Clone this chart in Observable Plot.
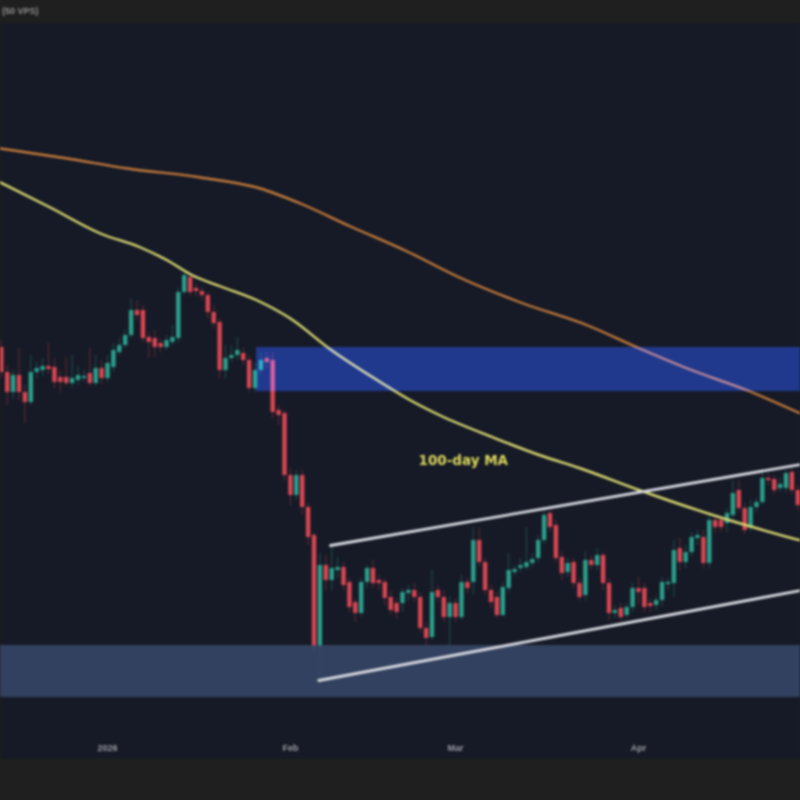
<!DOCTYPE html>
<html>
<head>
<meta charset="utf-8">
<script src="https://cdn.jsdelivr.net/npm/d3@7"></script>
<script src="https://cdn.jsdelivr.net/npm/@observablehq/plot@0.6"></script>
<style>
  html, body { margin: 0; padding: 0; background: #1f1f1f; }
  svg { display: block; }
</style>
</head>
<body>
<div id="chart"></div>
<script>
// Daily candles: day number counted from 1 Jan 2026, prices in thousand USD
const firstDay = -18;
const opens = [93.3,90.8,88.8,90.5,88.8,87.8,90.8,91.0,91.4,91.3,90.3,90.3,89.7,90.0,90.2,90.7,89.7,91.2,
90.2,91.3,92.8,93.5,94.5,97.0,97.0,94.3,94.2,93.7,93.3,93.8,94.2,98.8,100.3,99.2,98.9,98.5,96.8,95.8,91.0,92.2,92.5,92.7,92.0,89.2,91.0,92.2,92.0,87.0,86.7,80.5,78.5,80.5,77.3,74.5,63.3,71.5,70.0,71.0,71.3,69.8,67.8,66.7,69.8,71.2,70.0,69.8,68.3,67.7,67.7,68.7,69.0,68.3,65.2,64.3,69.0,68.3,66.3,67.7,66.3,69.8,69.8,74.0,71.8,69.0,68.3,66.5,69.2,70.8,71.2,71.3,71.7,72.2,74.0,76.7,75.5,72.3,70.8,71.8,69.7,68.5,72.0,71.5,72.5,69.7,66.7,67.2,66.5,67.3,69.2,69.2,67.7,67.5,68.0,69.6,69.7,73.2,71.8,72.8,74.2,74.3,71.7,76.0,76.0,75.7,76.5,79.0,77.2,75.2,77.3,77.8,80.2,80.1,79.2,79.2,80.8,79.0];
const closes = [90.8,88.8,90.5,88.8,87.8,90.8,91.2,91.4,91.1,89.8,89.8,89.7,90.2,90.5,90.4,89.7,91.2,90.2,
91.7,93.0,93.5,94.5,97.0,96.5,94.2,93.8,93.3,93.3,94.0,94.3,98.8,100.5,98.8,98.9,98.5,96.8,95.7,91.0,92.2,92.5,93.0,92.0,89.2,91.0,92.0,91.8,86.8,86.5,80.5,78.5,80.5,77.3,74.3,63.3,71.5,70.0,71.2,71.3,69.5,67.3,66.7,69.8,71.2,69.7,69.7,68.2,67.0,66.8,68.8,69.0,68.3,65.2,64.2,68.8,68.3,66.3,67.7,66.3,69.8,69.2,74.0,71.8,69.0,67.8,66.5,69.3,71.0,71.1,71.5,71.8,72.1,74.0,76.5,75.3,72.2,70.7,71.7,69.7,68.3,72.0,71.5,72.5,69.7,66.7,67.0,66.3,67.3,69.2,68.8,67.3,67.4,68.0,69.8,69.8,73.0,71.8,72.8,74.3,74.5,71.7,76.0,75.3,75.3,76.7,78.7,77.2,75.0,77.3,77.8,80.2,80.0,79.0,79.6,80.7,79.0,77.5];
const highs = [94.0,91.5,91.0,93.2,89.5,92.5,91.8,92.2,93.7,92.2,91.0,92.3,92.5,91.4,91.0,93.2,92.5,92.0,
92.5,93.7,94.2,95.0,98.2,98.0,97.5,94.8,95.0,94.2,94.5,95.5,99.2,101.0,100.8,99.6,99.3,98.8,97.5,96.2,93.5,93.5,94.3,93.2,92.5,91.8,92.8,92.8,92.8,87.5,87.0,81.2,81.0,81.0,77.7,74.8,72.7,72.5,73.3,72.3,71.8,70.2,68.2,70.2,71.5,72.0,70.5,70.2,69.0,68.2,69.2,69.5,69.7,68.8,65.8,71.0,69.5,69.0,68.4,68.2,70.5,70.2,75.3,75.2,72.2,69.5,68.8,69.8,72.7,71.5,72.2,75.3,72.7,74.5,77.0,77.0,76.0,72.8,72.2,72.2,70.2,72.8,72.5,73.2,72.8,70.2,67.5,67.7,67.7,69.7,70.3,69.7,68.2,68.4,70.3,70.2,74.0,74.2,73.5,74.8,75.0,75.0,76.5,76.5,76.4,77.2,80.0,80.0,77.7,78.0,78.2,80.7,80.6,80.5,80.2,81.0,81.2,79.5];
const lows = [90.2,87.5,88.2,88.0,85.7,87.5,90.2,90.4,90.6,89.2,88.8,89.4,89.3,89.5,89.8,89.4,89.4,89.6,
89.8,90.8,92.5,93.2,94.2,96.0,93.8,92.2,92.3,92.8,93.0,93.5,93.8,98.5,98.4,98.4,98.0,96.2,95.2,90.2,90.2,91.8,92.0,91.5,88.8,88.8,90.6,91.2,86.2,85.5,80.0,77.5,78.0,76.5,73.5,62.7,60.0,69.0,69.0,70.2,69.0,66.8,65.8,66.4,69.2,69.2,69.0,67.5,66.5,66.2,66.8,68.0,67.8,64.8,63.5,64.0,67.8,65.8,63.5,65.8,66.0,68.7,68.5,71.3,68.5,67.2,66.2,66.3,68.8,70.4,70.8,71.0,71.3,71.8,73.6,74.8,71.8,70.0,70.3,69.2,68.0,68.0,71.0,71.0,69.0,66.0,66.2,66.0,66.2,66.8,67.5,66.8,66.8,67.0,67.4,69.0,68.3,71.0,71.2,72.4,73.5,71.2,71.2,74.8,74.8,74.8,76.0,76.8,74.6,74.8,76.8,77.5,79.4,78.6,78.8,78.8,78.6,77.0];

// 100-day moving average
const ma100Days = [-18.14,-9.7,-1.2,5.6,10.2,14.1,19.2,25.4,31,37.8,45.8,51.4,56.4,65.4,73.4,80.2,90.3,103.9,117.46];
const ma100Prices = [109.8,107.3,104.7,103.3,102,100.6,99.4,98,96.2,93.1,90,88,86.5,84.3,82.5,81.2,79,76.3,74];

// 200-day moving average
const ma200Days = [-18.14,-6.8,3.4,15.8,25.9,32.7,41.2,50.8,59.3,70,81.4,89.8,98.3,108.5,117.46];
const ma200Prices = [113.2,112.2,111.2,110.3,109.2,107.7,105.4,102.9,100.4,97.8,95.5,93.3,91.2,89,86.7];

// Rising channel
const upperDays = [37.8,117.46];
const upperPrices = [73.5,81.6];
const lowerDays = [35.8,117.46];
const lowerPrices = [60,69];

// Zones
const zoneDays = [-18.14,117.46];
const demandZone = [58.3,63.5];
const resistanceStart = 25.25;
const resistanceZone = [88.9,93.3];

// Axis labels
const tickDays = [0,31,59,90];
const tickLabels = ["2026","Feb","Mar","Apr"];
const tickPrice = 53.2;
const headerText = ["(50 VPS)"];

const candles = opens.map((o,i)=>({day:firstDay+i,o,c:closes[i],h:highs[i],l:lows[i]}));
const up = candles.filter(d=>d.c>=d.o);
const down = candles.filter(d=>d.c<d.o);
const toLine = (xs,ys)=>xs.map((x,i)=>({x,y:ys[i]}));

const green = "#2a9f8b", red = "#d84652";
const candleMarks = (data,color)=>[
  Plot.ruleX(data,{x:"day",y1:"l",y2:"h",stroke:color,strokeWidth:1,strokeOpacity:0.4}),
  Plot.ruleX(data,{x:"day",y1:"o",y2:"c",stroke:color,strokeWidth:4.4})
];

const chart = Plot.plot({
  width:800,height:800,
  marginTop:22,marginBottom:42,marginLeft:0,marginRight:0,
  x:{domain:[-18.14,117.46],axis:null},
  y:{domain:[52.2,125.8],axis:null},
  style:{background:"#1f1f1f"},
  marks:[
    Plot.frame({fill:"#161a26",stroke:"none"}),
    ...candleMarks(up,green),
    ...candleMarks(down,red),
    Plot.line(toLine(ma200Days,ma200Prices),{x:"x",y:"y",stroke:"#c2793a",strokeWidth:2.4,curve:"monotone-x"}),
    Plot.line(toLine(ma100Days,ma100Prices),{x:"x",y:"y",stroke:"#d8d870",strokeWidth:2.4,curve:"monotone-x"}),
    Plot.rect([0],{x1:()=>zoneDays[0],x2:()=>zoneDays[1],y1:()=>demandZone[0],y2:()=>demandZone[1],fill:"#374768",fillOpacity:0.88}),
    Plot.rect([0],{x1:()=>resistanceStart,x2:()=>zoneDays[1],y1:()=>resistanceZone[0],y2:()=>resistanceZone[1],fill:"#0b2279",mixBlendMode:"screen"}),
    Plot.line(toLine(upperDays,upperPrices),{x:"x",y:"y",stroke:"#d6d8e0",strokeWidth:2.8}),
    Plot.line(toLine(lowerDays,lowerPrices),{x:"x",y:"y",stroke:"#d6d8e0",strokeWidth:2.8}),
    Plot.text(["100-day MA"],{x:()=>60.3,y:()=>82,text:d=>d,fill:"#dcd85c",fontSize:13.5,fontWeight:700,fontFamily:"DejaVu Sans"}),
    Plot.text(tickLabels,{x:(d,i)=>tickDays[i],y:()=>tickPrice,text:d=>d,fill:"#9b9da2",fontSize:9,fontWeight:700,fontFamily:"Liberation Sans"}),
    Plot.text(headerText,{x:()=>-17.9,y:()=>126.9,text:d=>d,textAnchor:"start",fill:"#8f8f8f",fontSize:9,fontWeight:700,fontFamily:"Liberation Sans"})
  ]
});
chart.style.filter = "blur(0.85px)";
document.getElementById("chart").append(chart);
</script>
</body>
</html>
